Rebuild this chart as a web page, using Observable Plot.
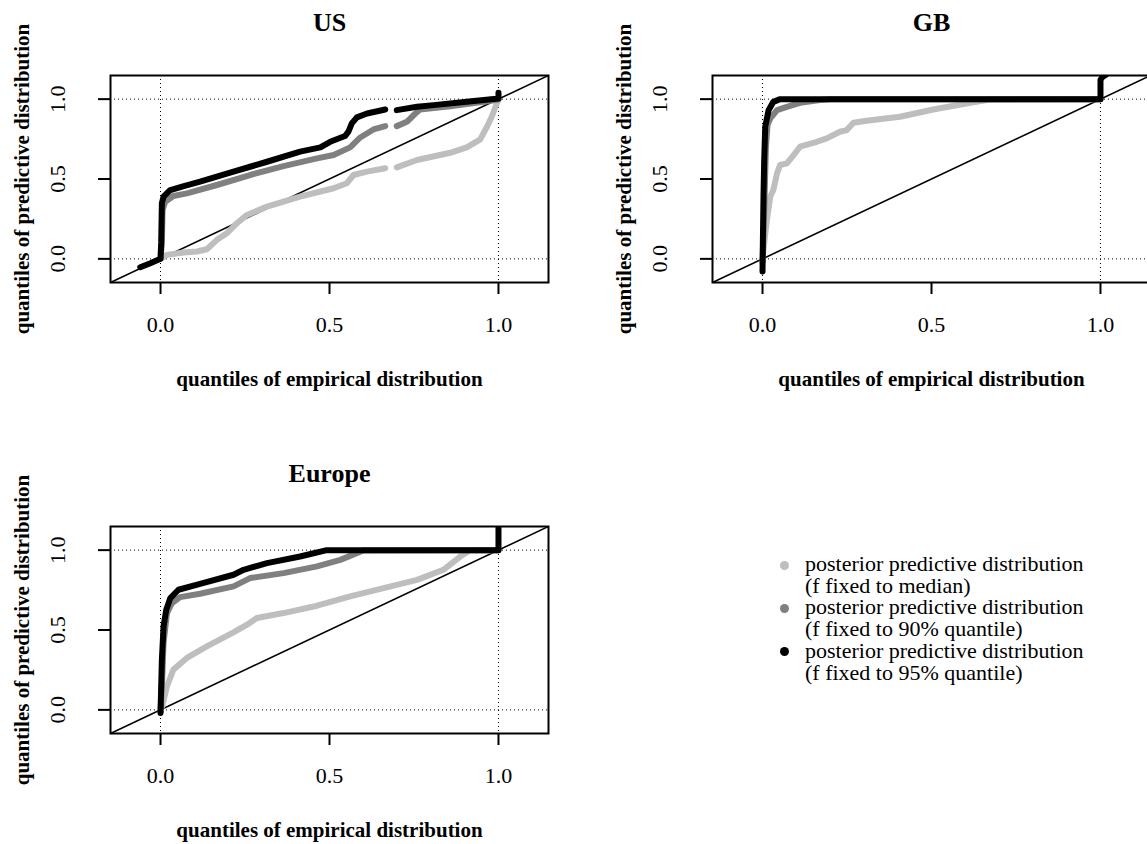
<!DOCTYPE html>
<html><head><meta charset="utf-8">
<script src="https://cdn.jsdelivr.net/npm/d3@7"></script>
<script src="https://cdn.jsdelivr.net/npm/@observablehq/plot@0.6"></script>
<style>
html,body{margin:0;padding:0;background:#fff}
body{width:1147px;height:844px;overflow:hidden;position:relative;font-family:"Liberation Serif","Times New Roman",serif}
.panel{position:absolute;width:573px;height:422px}
.panel svg{max-width:none;overflow:visible}
#legend{position:absolute;left:775px;top:553px;font-size:22px;line-height:21.7px;color:#000}
#legend .row{position:relative;padding-left:30px;white-space:nowrap}
#legend .dot{position:absolute;left:5px;top:7.5px;width:9px;height:9px;border-radius:50%}
</style></head><body>
<script>
// ---- data ----
const panelTitles = ["US", "GB", "Europe"];
const xLabel = "quantiles of empirical distribution";
const yLabel = "quantiles of predictive distribution";
const xTicks = [0, 0.5, 1];
const yTicks = [0, 0.5, 1];
const gridAt = [0, 1];
const axisDomain = [-0.148, 1.148];
const diagonal = [-0.148, 1.148];
const seriesLabels = [
  ["posterior predictive distribution", "(f fixed to median)"],
  ["posterior predictive distribution", "(f fixed to 90% quantile)"],
  ["posterior predictive distribution", "(f fixed to 95% quantile)"]
];
const seriesColors = ["#bebebe", "#808080", "#000000"];

// US
const usMedian = [[0,0],[0.019,0.025],[0.068,0.04],[0.108,0.046],[0.137,0.06],[0.167,0.119],[0.196,0.16],[0.226,0.223],[0.256,0.275],[0.315,0.327],[0.413,0.39],[0.512,0.442],[0.551,0.473],[0.571,0.525],[0.611,0.546],[0.665,0.567],[0.68,null],[0.699,0.573],[0.759,0.619],[0.857,0.664],[0.906,0.698],[0.946,0.748],[0.966,0.827],[0.98,0.89],[0.995,0.973],[1.0,0.998]];
const usQ90 = [[0,0],[0.004,0.1],[0.006,0.306],[0.014,0.358],[0.038,0.394],[0.078,0.41],[0.167,0.4625],[0.265,0.525],[0.364,0.581],[0.463,0.629],[0.512,0.65],[0.561,0.698],[0.591,0.76],[0.63,0.81],[0.665,0.831],[0.68,null],[0.699,0.831],[0.729,0.858],[0.754,0.91],[0.768,0.935],[0.857,0.956],[0.956,0.983],[1.0,0.998]];
const usQ95 = [[-0.06,-0.052],[-0.03,-0.027],[0,0],[0.002,0.1],[0.004,0.348],[0.009,0.39],[0.029,0.431],[0.069,0.456],[0.117,0.483],[0.216,0.546],[0.315,0.608],[0.413,0.671],[0.473,0.698],[0.502,0.733],[0.546,0.769],[0.556,0.796],[0.566,0.848],[0.581,0.886],[0.611,0.91],[0.665,0.935],[0.68,null],[0.699,0.931],[0.759,0.952],[0.808,0.9625],[0.906,0.983],[1.0,1.004],[1.0,1.04]];
// GB
const gbMedian = [[0,0],[0.005,0.1],[0.013,0.244],[0.023,0.39],[0.032,0.431],[0.043,0.536],[0.052,0.5875],[0.072,0.598],[0.092,0.65],[0.111,0.702],[0.161,0.733],[0.19,0.754],[0.229,0.796],[0.249,0.806],[0.269,0.852],[0.308,0.865],[0.407,0.89],[0.505,0.935],[0.603,0.973],[0.672,0.998],[1.0,1.0]];
const gbQ90 = [[0,-0.02],[0.005,0.3],[0.01,0.7],[0.015,0.84],[0.023,0.879],[0.043,0.931],[0.072,0.952],[0.111,0.977],[0.17,0.994],[0.2,1.0],[1.0,1.0]];
const gbQ95 = [[0,-0.079],[0.001,0.1],[0.003,0.4],[0.005,0.62],[0.008,0.827],[0.018,0.931],[0.032,0.983],[0.052,1.0],[1.0,1.0],[1.0,1.12],[1.006,1.14],[1.015,1.15]];
// Europe
const euMedian = [[0.005,0.023],[0.019,0.148],[0.038,0.252],[0.078,0.325],[0.137,0.398],[0.216,0.485],[0.256,0.533],[0.285,0.575],[0.364,0.606],[0.463,0.652],[0.561,0.71],[0.66,0.7625],[0.759,0.814],[0.837,0.877],[0.887,0.96],[0.916,1.0],[1.0,1.0]];
const euQ90 = [[0,-0.01],[0.005,0.2],[0.009,0.419],[0.019,0.606],[0.034,0.669],[0.058,0.706],[0.117,0.727],[0.216,0.773],[0.265,0.825],[0.364,0.856],[0.463,0.898],[0.532,0.939],[0.6,0.998],[1.0,1.0]];
const euQ95 = [[0,-0.019],[0.004,0.314],[0.009,0.523],[0.017,0.627],[0.029,0.7],[0.053,0.752],[0.117,0.789],[0.216,0.846],[0.246,0.877],[0.315,0.919],[0.413,0.96],[0.492,1.0],[1.0,1.0],[1.0,1.16]];

const panels = [
  {title: panelTitles[0], series: [usMedian, usQ90, usQ95], left: 0, top: 0},
  {title: panelTitles[1], series: [gbMedian, gbQ90, gbQ95], left: 602, top: 0},
  {title: panelTitles[2], series: [euMedian, euQ90, euQ95], left: 0, top: 451}
];

const font = '"Liberation Serif","Times New Roman",serif';

function makePanel(p) {
  const div = document.createElement("div");
  div.className = "panel";
  div.style.left = p.left + "px";
  div.style.top = p.top + "px";
  const seriesMarks = p.series.map((s, i) => Plot.line(s, {
    x: d => d[0], y: d => d[1], stroke: seriesColors[i], strokeWidth: 6,
    strokeLinecap: "round", strokeLinejoin: "round", clip: true
  }));
  const chart = Plot.plot({
    width: 573, height: 422,
    marginLeft: 110, marginRight: 25, marginTop: 75, marginBottom: 140,
    style: {fontFamily: font, fontSize: "22px", background: "transparent", overflow: "visible", color: "#000"},
    x: {domain: axisDomain, axis: null},
    y: {domain: axisDomain, axis: null},
    marks: [
      Plot.ruleX(gridAt, {stroke: "#000", strokeWidth: 1, strokeDasharray: "1,3"}),
      Plot.ruleY(gridAt, {stroke: "#000", strokeWidth: 1, strokeDasharray: "1,3"}),
      Plot.line(diagonal, {x: d => d, y: d => d, stroke: "#000", strokeWidth: 1.6, clip: true}),
      ...seriesMarks,
      Plot.frame({stroke: "#000", strokeWidth: 2}),
      Plot.axisX(xTicks, {tickSize: 12, tickPadding: 22, strokeWidth: 2, fontSize: 22, tickFormat: d => d.toFixed(1), label: null}),
      Plot.axisY(yTicks, {tickSize: 12, strokeWidth: 2, tickFormat: () => "", label: null}),
      Plot.text(yTicks, {y: d => d, text: d => d.toFixed(1), frameAnchor: "left", rotate: -90, lineAnchor: "bottom", textAnchor: "middle", dx: -46, fontSize: 22}),
      Plot.text([p.title], {text: d => d, frameAnchor: "top", lineAnchor: "bottom", dy: -45, fontSize: 26, fontWeight: "bold"}),
      Plot.text([xLabel], {text: d => d, frameAnchor: "bottom", lineAnchor: "bottom", dy: 103, fontSize: 21, fontWeight: "bold"}),
      Plot.text([yLabel], {text: d => d, frameAnchor: "left", rotate: -90, lineAnchor: "bottom", textAnchor: "middle", dx: -82, fontSize: 21, fontWeight: "bold"})
    ]
  });
  div.appendChild(chart);
  document.body.appendChild(div);
}
panels.forEach(makePanel);

// legend
const legend = document.createElement("div");
legend.id = "legend";
seriesLabels.forEach((lines, i) => {
  const row = document.createElement("div");
  row.className = "row";
  const dot = document.createElement("span");
  dot.className = "dot";
  dot.style.background = seriesColors[i];
  row.appendChild(dot);
  lines.forEach(t => { const l = document.createElement("div"); l.textContent = t; row.appendChild(l); });
  legend.appendChild(row);
});
document.body.appendChild(legend);
</script>
</body></html>
